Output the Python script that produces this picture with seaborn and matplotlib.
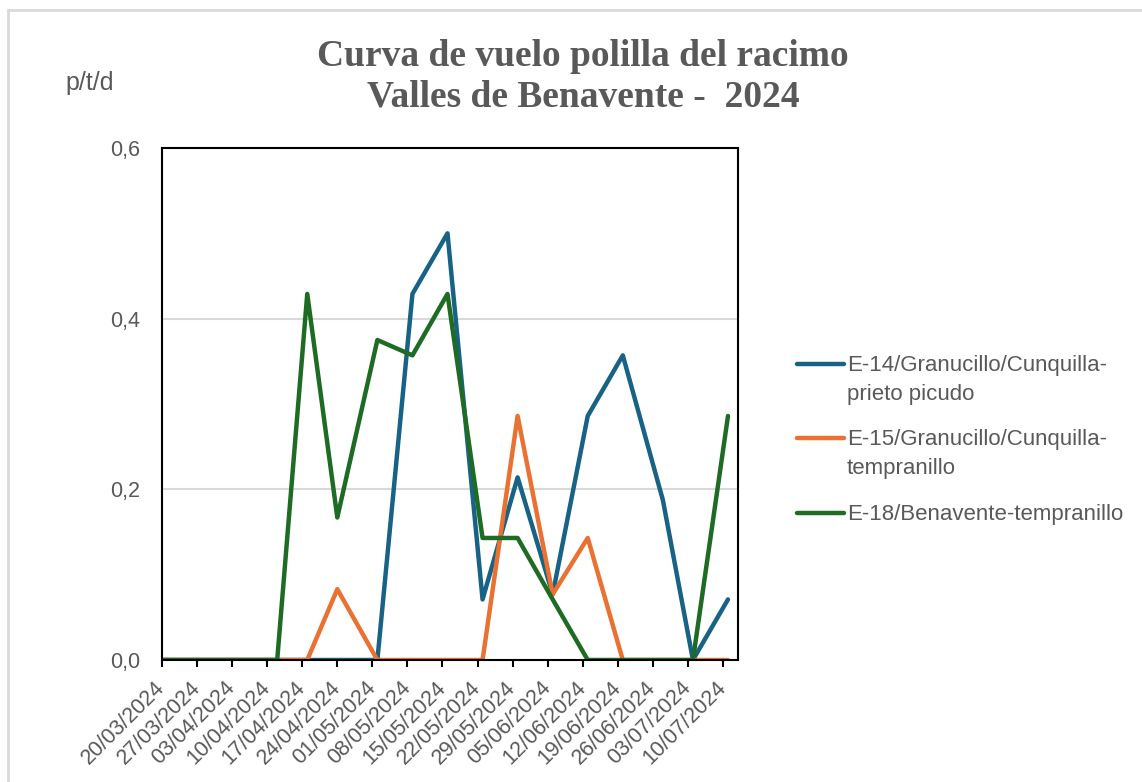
import pandas as pd
import numpy as np
import seaborn as sns
import matplotlib.pyplot as plt
import matplotlib.dates as mdates
from matplotlib.patches import Rectangle
from matplotlib.ticker import FuncFormatter

# fechas de muestreo (aprox. semanales)
fechas = ['2024-03-20', '2024-03-27', '2024-04-03', '2024-04-12', '2024-04-18', '2024-04-24',
          '2024-05-02', '2024-05-09', '2024-05-16', '2024-05-23', '2024-05-30', '2024-06-06',
          '2024-06-13', '2024-06-20', '2024-06-28', '2024-07-04', '2024-07-11']

series = ['E-14/Granucillo/Cunquilla-\nprieto picudo',
          'E-15/Granucillo/Cunquilla-\ntempranillo',
          'E-18/Benavente-tempranillo']

e14 = [0, 0, 0, 0, 0, 0, 0, 0.429, 0.5, 0.071, 0.214, 0.077, 0.286, 0.357, 0.1875, 0, 0.071]
e15 = [0, 0, 0, 0, 0, 0.083, 0, 0, 0, 0, 0.286, 0.077, 0.143, 0, 0, 0, 0]
e18 = [0, 0, 0, 0, 0.429, 0.167, 0.375, 0.357, 0.429, 0.143, 0.143, 0.071, 0, 0, 0, 0, 0.286]

tick_fechas = pd.date_range('2024-03-20', '2024-07-10', freq='7D')

colores = ['#176285', '#E97132', '#1E6B24']
gris = '#595959'


def get_data():
    partes = []
    for nombre, valores in zip(series, [e14, e15, e18]):
        partes.append(pd.DataFrame({'fecha': pd.to_datetime(fechas), 'ptd': valores, 'serie': nombre}))
    return pd.concat(partes, ignore_index=True)


def plot_data(data):
    sns.set_theme(style='white')
    plt.rcParams['font.family'] = ['Liberation Sans', 'DejaVu Sans']

    fig = plt.figure(figsize=(11.42, 7.82), dpi=100)
    ax = fig.add_axes([162 / 1142, 1 - 660 / 782, 576 / 1142, 512 / 782])

    sns.lineplot(data=data, x='fecha', y='ptd', hue='serie', hue_order=series,
                 palette=colores, linewidth=3.2, ax=ax, legend=True)

    ax.set_ylim(0, 0.6)
    ax.set_yticks([0, 0.2, 0.4, 0.6])
    ax.yaxis.set_major_formatter(FuncFormatter(lambda v, p: f'{v:.1f}'.replace('.', ',')))
    ax.set_xlim(pd.Timestamp('2024-03-20'), pd.Timestamp('2024-07-13'))
    ax.set_xticks(tick_fechas)
    ax.xaxis.set_major_formatter(mdates.DateFormatter('%d/%m/%Y'))
    ax.set_xlabel('')
    ax.set_ylabel('')

    ax.grid(axis='y', color='#d9d9d9', linewidth=1.5)
    ax.set_axisbelow(True)
    for s in ax.spines.values():
        s.set_color('black')
        s.set_linewidth(1.5)
    ax.tick_params(axis='x', bottom=True, length=5, width=1.5, color='black', direction='out',
                   labelsize=15.5, labelcolor=gris, pad=13)
    ax.tick_params(axis='y', left=False, labelsize=15.5, labelcolor=gris, pad=10)
    plt.setp(ax.get_xticklabels(), rotation=45, ha='right', va='center', rotation_mode='anchor')

    handles, labels = ax.get_legend_handles_labels()
    leg = ax.legend(handles, labels, loc='upper left', bbox_to_anchor=(797 / 1142, 1 - 355 / 782),
                    bbox_transform=fig.transFigure, frameon=False, fontsize=16,
                    handlelength=2.1, handletextpad=0.15, labelspacing=1.1,
                    borderpad=0, borderaxespad=0, handleheight=1.0)
    for t in leg.get_texts():
        t.set_color(gris)
        t.set_linespacing(1.5)
    for h in leg.get_lines():
        h.set_linewidth(3.2)
    for col in leg._legend_handle_box.get_children():
        for fila in col.get_children():
            fila.align = 'top'

    fig.text(583 / 1142, 1 - 77 / 782, 'Curva de vuelo polilla del racimo\nValles de Benavente -  2024',
             ha='center', va='center', fontsize=27, fontweight='bold', color=gris,
             family='Liberation Serif', linespacing=1.2)
    fig.text(65 / 1142, 1 - 83 / 782, 'p/t/d', ha='left', va='center', fontsize=18, color=gris)

    fig.add_artist(Rectangle((8 / 1142, -0.1), 2, 1.1 - 10 / 782, transform=fig.transFigure,
                             facecolor='none', edgecolor='#d9d9d9', linewidth=2))

    fig.savefig('out.png', dpi=100)


if __name__ == '__main__':
    data = get_data()
    plot_data(data)
